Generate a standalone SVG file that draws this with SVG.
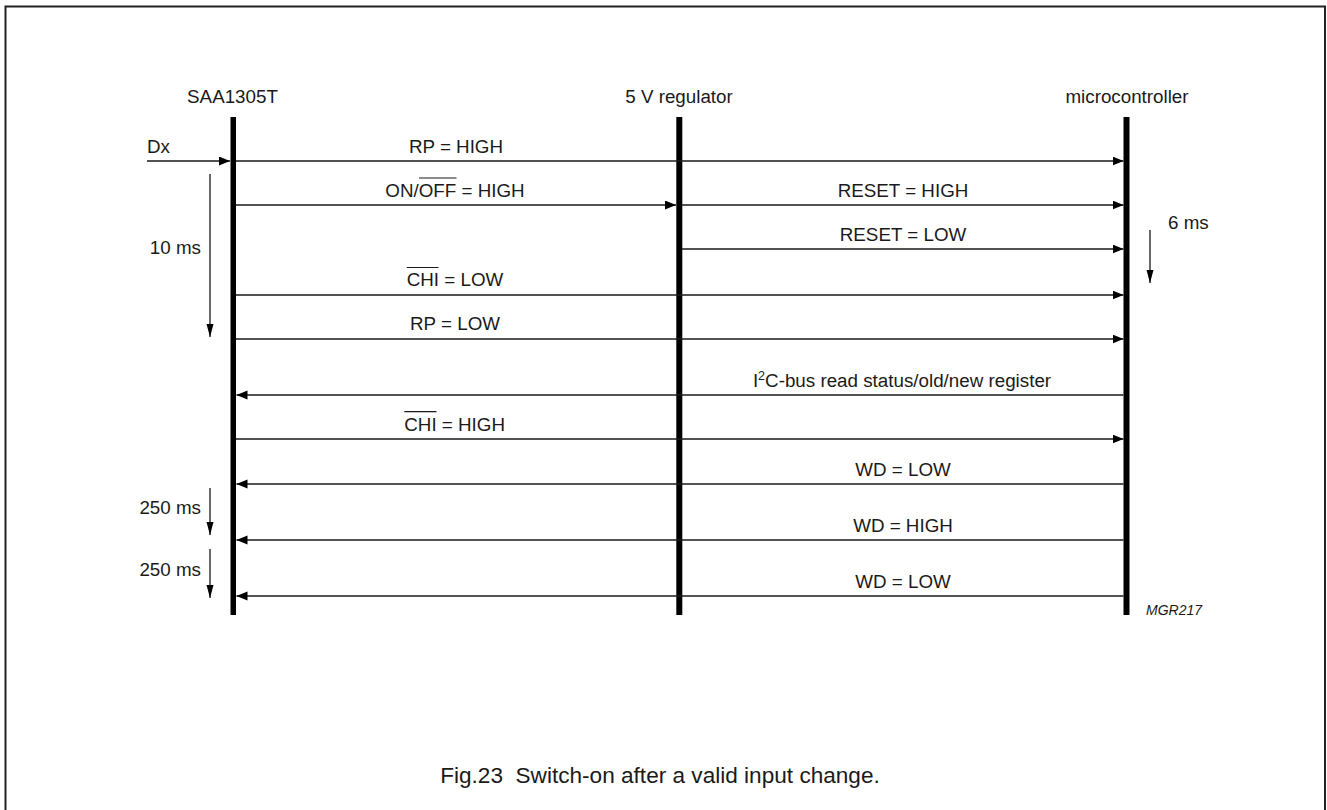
<svg xmlns="http://www.w3.org/2000/svg" width="1327" height="810" viewBox="0 0 1327 810">
<style>
text{font-family:"Liberation Sans",Arial,Helvetica,sans-serif;fill:#1a1a1a}
.lbl{font-size:18.8px}
.mid{text-anchor:middle}
.end{text-anchor:end}
.msg{stroke:#1a1a1a;stroke-width:1.4;fill:none}
.ovl{stroke:#1a1a1a;stroke-width:1.2}
.life{fill:#000}
.tm{stroke:#1a1a1a;stroke-width:1.3;fill:none;marker-end:url(#av)}
.ar{marker-end:url(#ah)}
</style>
<defs>
<marker id="ah" markerUnits="userSpaceOnUse" markerWidth="12" markerHeight="10" refX="11" refY="4.5" orient="auto">
<path d="M0,0 L11,4.5 L0,9 z" fill="#000"/>
</marker>
<marker id="av" markerUnits="userSpaceOnUse" markerWidth="14" markerHeight="8" refX="13" refY="3.5" orient="auto">
<path d="M0,0 L13,3.5 L0,7 z" fill="#000"/>
</marker>
</defs>
<rect x="5.5" y="6.5" width="1319.5" height="830" fill="#fff" stroke="#222" stroke-width="2"/>

<g id="saa1305t">
<text class="lbl mid" x="232.5" y="103">SAA1305T</text>
<rect class="life" x="230.5" y="117" width="5.5" height="498"/>
</g>
<g id="regulator">
<text class="lbl mid" x="679" y="103">5 V regulator</text>
<rect class="life" x="676.3" y="117" width="6" height="498"/>
</g>
<g id="microcontroller">
<text class="lbl mid" x="1127" y="103">microcontroller</text>
<rect class="life" x="1123.5" y="117" width="6" height="498"/>
</g>

<g id="connectors">
<line class="msg ar" x1="147" y1="161" x2="230" y2="161"/>
<line class="msg ar" x1="236" y1="161" x2="1123.5" y2="161"/>
<line class="msg ar" x1="236" y1="205" x2="676" y2="205"/>
<line class="msg ar" x1="682" y1="205" x2="1123.5" y2="205"/>
<line class="msg ar" x1="682" y1="249" x2="1123.5" y2="249"/>
<line class="msg ar" x1="236" y1="295" x2="1123.5" y2="295"/>
<line class="msg ar" x1="236" y1="339" x2="1123.5" y2="339"/>
<line class="msg ar" x1="1123.5" y1="395" x2="236.5" y2="395"/>
<line class="msg ar" x1="236" y1="439" x2="1123.5" y2="439"/>
<line class="msg ar" x1="1123.5" y1="484" x2="236.5" y2="484"/>
<line class="msg ar" x1="1123.5" y1="540" x2="236.5" y2="540"/>
<line class="msg ar" x1="1123.5" y1="596" x2="236.5" y2="596"/>
<line class="tm" x1="210" y1="174" x2="210" y2="337"/>
<line class="tm" x1="1150" y1="230" x2="1150" y2="283"/>
<line class="tm" x1="210" y1="488" x2="210" y2="535"/>
<line class="tm" x1="210" y1="549" x2="210" y2="598"/>
</g>

<g id="labels">
<text class="lbl" x="147" y="153">Dx</text>
<text class="lbl mid" x="456" y="153">RP = HIGH</text>
<text class="lbl" x="385.3" y="197">ON/OFF = HIGH</text>
<line class="ovl" x1="419" y1="178" x2="456.5" y2="178"/>
<text class="lbl mid" x="903" y="197">RESET = HIGH</text>
<text class="lbl mid" x="903" y="241">RESET = LOW</text>
<text class="lbl" x="406.7" y="286">CHI = LOW</text>
<line class="ovl" x1="406.7" y1="267.5" x2="438.5" y2="267.5"/>
<text class="lbl mid" x="455" y="330">RP = LOW</text>
<text class="lbl mid" x="902" y="387">I<tspan font-size="12.5" dy="-7">2</tspan><tspan dy="7">C-bus read status/old/new register</tspan></text>
<text class="lbl" x="404.3" y="431">CHI = HIGH</text>
<line class="ovl" x1="404.3" y1="411.7" x2="436.5" y2="411.7"/>
<text class="lbl mid" x="903" y="476">WD = LOW</text>
<text class="lbl mid" x="903" y="532">WD = HIGH</text>
<text class="lbl mid" x="903" y="588">WD = LOW</text>
<text class="lbl end" x="201" y="254">10 ms</text>
<text class="lbl" x="1168" y="229">6 ms</text>
<text class="lbl end" x="201" y="514">250 ms</text>
<text class="lbl end" x="201" y="576">250 ms</text>
<text x="1146" y="615" font-size="14" font-style="italic">MGR217</text>
<text x="660" y="783" font-size="22.6" text-anchor="middle" xml:space="preserve">Fig.23  Switch-on after a valid input change.</text>
</g>
</svg>
